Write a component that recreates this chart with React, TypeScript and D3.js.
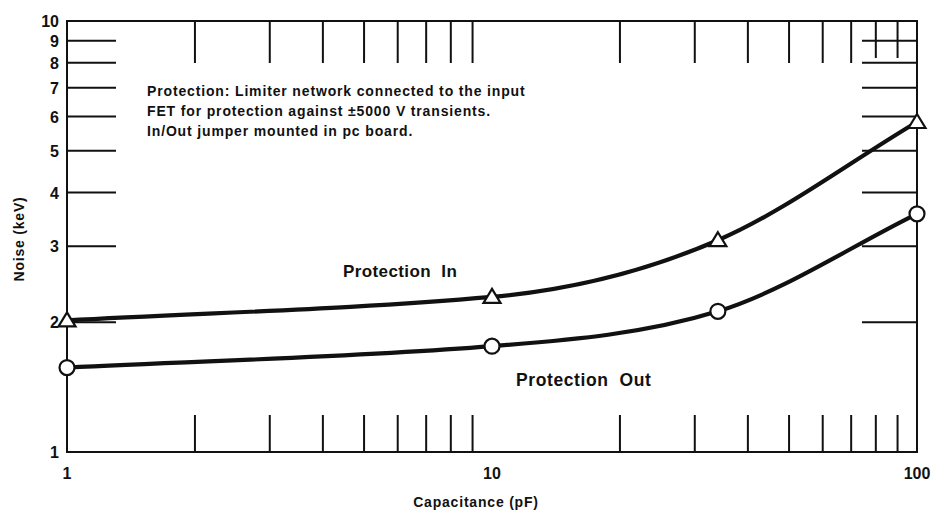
import * as d3 from "d3";
import { useEffect, useRef } from "react";

interface Pt {
  c: number;
  n: number;
}

// capacitance (pF) at the measured points
const capacitance = [1, 10, 34, 100];
// noise (keV)
const protectionIn = [2.02, 2.29, 3.1, 5.83];
const protectionOut = [1.57, 1.76, 2.12, 3.57];

const xTickLabels = [1, 10, 100];
const yTickLabels = [1, 2, 3, 4, 5, 6, 7, 8, 9, 10];
const xMinorTicks = [2, 3, 4, 5, 6, 7, 8, 9, 20, 30, 40, 50, 60, 70, 80, 90];
const yMinorTicks = [2, 3, 4, 5, 6, 7, 8, 9];

const noteLines = [
  "Protection: Limiter network connected to the input",
  "FET for protection against \u00b15000 V transients.",
  "In/Out jumper mounted in pc board.",
];

export default function App() {
  const svgRef = useRef<SVGSVGElement>(null);

  useEffect(() => {
    if (!svgRef.current) return;
    const width = 936;
    const height = 511;
    const svg = d3.select<SVGSVGElement, unknown>(svgRef.current);
    svg.selectAll("*").remove();
    svg.attr("width", width).attr("height", height);

    const font = "'Liberation Sans', Arial, Helvetica, sans-serif";
    const ink = "#111";

    svg.append("rect").attr("width", width).attr("height", height).attr("fill", "#fff");

    const x = d3.scaleLog().domain([1, 100]).range([67, 917]);
    const y = d3.scaleLog().domain([1, 10]).range([452, 21]);

    const g = svg.append("g");

    // frame
    g.append("rect")
      .attr("x", x(1))
      .attr("y", y(10))
      .attr("width", x(100) - x(1))
      .attr("height", y(1) - y(10))
      .attr("fill", "none")
      .attr("stroke", ink)
      .attr("stroke-width", 2);

    // bottom + top ticks
    g.selectAll("line.bt")
      .data(xMinorTicks)
      .enter()
      .append("line")
      .attr("class", "bt")
      .attr("x1", (d) => x(d))
      .attr("x2", (d) => x(d))
      .attr("y1", y(1))
      .attr("y2", y(1) - 37)
      .attr("stroke", ink)
      .attr("stroke-width", 2);
    g.selectAll("line.tt")
      .data(xMinorTicks)
      .enter()
      .append("line")
      .attr("class", "tt")
      .attr("x1", (d) => x(d))
      .attr("x2", (d) => x(d))
      .attr("y1", y(10))
      .attr("y2", (d) => y(10) + (d >= 80 ? 37 : 42))
      .attr("stroke", ink)
      .attr("stroke-width", 2);

    // left + right ticks
    g.selectAll("line.lt")
      .data(yMinorTicks)
      .enter()
      .append("line")
      .attr("class", "lt")
      .attr("x1", x(1))
      .attr("x2", x(1) + 49)
      .attr("y1", (d) => y(d))
      .attr("y2", (d) => y(d))
      .attr("stroke", ink)
      .attr("stroke-width", 2);
    g.selectAll("line.rt")
      .data(yMinorTicks)
      .enter()
      .append("line")
      .attr("class", "rt")
      .attr("x1", x(100))
      .attr("x2", x(100) - 55)
      .attr("y1", (d) => y(d))
      .attr("y2", (d) => y(d))
      .attr("stroke", ink)
      .attr("stroke-width", 2);

    // tick labels
    g.selectAll("text.yl")
      .data(yTickLabels)
      .enter()
      .append("text")
      .attr("class", "yl")
      .attr("x", 59)
      .attr("y", (d) => y(d) + 6)
      .attr("text-anchor", "end")
      .attr("font-family", font)
      .attr("font-weight", "bold")
      .attr("font-size", 16)
      .attr("fill", ink)
      .text((d) => String(d));
    g.selectAll("text.xl")
      .data(xTickLabels)
      .enter()
      .append("text")
      .attr("class", "xl")
      .attr("x", (d) => x(d))
      .attr("y", 479)
      .attr("text-anchor", "middle")
      .attr("font-family", font)
      .attr("font-weight", "bold")
      .attr("font-size", 16)
      .attr("fill", ink)
      .text((d) => String(d));

    // axis titles
    svg.append("text")
      .attr("x", 476)
      .attr("y", 507)
      .attr("text-anchor", "middle")
      .attr("font-family", font)
      .attr("font-weight", "bold")
      .attr("font-size", 14)
      .attr("letter-spacing", 0.8)
      .attr("fill", ink)
      .text("Capacitance (pF)");
    svg.append("text")
      .attr("transform", "translate(24,239) rotate(-90)")
      .attr("text-anchor", "middle")
      .attr("font-family", font)
      .attr("font-weight", "bold")
      .attr("font-size", 14)
      .attr("letter-spacing", 0.8)
      .attr("fill", ink)
      .text("Noise (keV)");

    // note
    svg.append("g")
      .selectAll("text")
      .data(noteLines)
      .enter()
      .append("text")
      .attr("x", 147)
      .attr("y", (_d, i) => 96 + i * 20)
      .attr("font-family", font)
      .attr("font-weight", "bold")
      .attr("font-size", 14)
      .attr("letter-spacing", 0.85)
      .attr("fill", ink)
      .text((d) => d);

    // curves: nearly straight from 1 to 10 pF, bending upward after that
    const curvePath = (pts: Pt[]) => {
      const px = pts.map((d) => x(d.c));
      const py = pts.map((d) => y(d.n));
      const h = px.slice(1).map((v, i) => v - px[i]);
      const s = h.map((w, i) => (py[i + 1] - py[i]) / w);
      // monotone-style tangent at the knee
      const p = (s[1] * h[2] + s[2] * h[1]) / (h[1] + h[2]);
      const knee = 2 * Math.sign(s[1]) * Math.min(Math.abs(s[1]), Math.abs(s[2]), 0.5 * Math.abs(p));
      const t = [s[0], s[0] * 1.6, knee, s[2]];
      const path = d3.path();
      path.moveTo(px[0], py[0]);
      for (let i = 0; i < h.length; i++) {
        const k = h[i] / 3;
        path.bezierCurveTo(
          px[i] + k,
          py[i] + t[i] * k,
          px[i + 1] - k,
          py[i + 1] - t[i + 1] * k,
          px[i + 1],
          py[i + 1]
        );
      }
      return path.toString();
    };

    const inPts: Pt[] = capacitance.map((c, i) => ({ c, n: protectionIn[i] }));
    const outPts: Pt[] = capacitance.map((c, i) => ({ c, n: protectionOut[i] }));

    [inPts, outPts].forEach((pts) => {
      g.append("path")
        .attr("d", curvePath(pts))
        .attr("fill", "none")
        .attr("stroke", ink)
        .attr("stroke-width", 4.2)
        .attr("stroke-linejoin", "round");
    });

    // markers
    g.selectAll("path.tri")
      .data(inPts)
      .enter()
      .append("path")
      .attr("class", "tri")
      .attr("d", (d) => {
        const cx = x(d.c);
        const cy = y(d.n);
        return `M${cx},${cy - 8}L${cx + 8.5},${cy + 6}L${cx - 8.5},${cy + 6}Z`;
      })
      .attr("fill", "#fff")
      .attr("stroke", ink)
      .attr("stroke-width", 2.2)
      .attr("stroke-linejoin", "miter");
    g.selectAll("circle.dot")
      .data(outPts)
      .enter()
      .append("circle")
      .attr("class", "dot")
      .attr("cx", (d) => x(d.c))
      .attr("cy", (d) => y(d.n))
      .attr("r", 7.5)
      .attr("fill", "#fff")
      .attr("stroke", ink)
      .attr("stroke-width", 2.2);

    // series labels
    g.append("text")
      .attr("x", 343)
      .attr("y", 277)
      .attr("font-family", font)
      .attr("font-weight", "bold")
      .attr("font-size", 17)
      .attr("letter-spacing", 0.4)
      .attr("fill", ink)
      .attr("xml:space", "preserve")
      .text("Protection  In");
    g.append("text")
      .attr("x", 516)
      .attr("y", 386)
      .attr("font-family", font)
      .attr("font-weight", "bold")
      .attr("font-size", 17.5)
      .attr("letter-spacing", 0.6)
      .attr("fill", ink)
      .attr("xml:space", "preserve")
      .text("Protection  Out");
  }, []);

  return (
    <svg
      ref={svgRef}
      style={{ position: "absolute", left: 0, top: 0, display: "block" }}
    ></svg>
  );
}
